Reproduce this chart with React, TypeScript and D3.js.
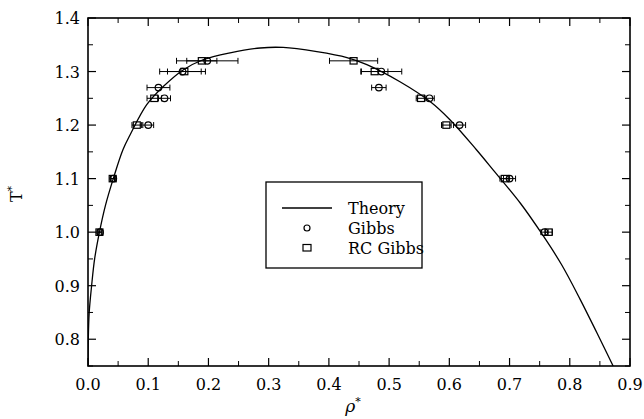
import React from "react";
import * as d3 from "d3";

// Theory coexistence curve (rho*, T*), vapour branch then liquid branch
const theoryRho = [0.0001, 0.0005, 0.002, 0.006, 0.011, 0.019, 0.029, 0.042, 0.058, 0.07, 0.0975, 0.125, 0.158, 0.191, 0.236, 0.286, 0.324, 0.38, 0.43, 0.463, 0.518, 0.568, 0.601, 0.645, 0.673, 0.718, 0.753, 0.786, 0.817, 0.845, 0.872];
const theoryT = [0.75, 0.8, 0.85, 0.9, 0.95, 1.0, 1.05, 1.1, 1.154, 1.182, 1.238, 1.272, 1.303, 1.322, 1.335, 1.344, 1.345, 1.337, 1.326, 1.313, 1.281, 1.244, 1.21, 1.154, 1.116, 1.054, 0.998, 0.94, 0.875, 0.812, 0.75];

// Gibbs ensemble (circles)
const gibbsRho = [0.198, 0.157, 0.117, 0.127, 0.1, 0.042, 0.02, 0.487, 0.483, 0.567, 0.617, 0.7, 0.758];
const gibbsT = [1.32, 1.3, 1.27, 1.25, 1.2, 1.1, 1.0, 1.3, 1.27, 1.25, 1.2, 1.1, 1.0];
const gibbsErr = [0.051, 0.038, 0.019, 0.01, 0.009, 0.004, 0.003, 0.034, 0.012, 0.008, 0.01, 0.01, 0.006];

// RC Gibbs (squares)
const rcRho = [0.189, 0.16, 0.11, 0.081, 0.041, 0.019, 0.441, 0.476, 0.553, 0.595, 0.692, 0.765];
const rcT = [1.32, 1.3, 1.25, 1.2, 1.1, 1.0, 1.32, 1.3, 1.25, 1.2, 1.1, 1.0];
const rcErr = [0.025, 0.028, 0.012, 0.008, 0.003, 0.003, 0.04, 0.022, 0.008, 0.008, 0.008, 0.006];

const xTicks = [0, 0.1, 0.2, 0.3, 0.4, 0.5, 0.6, 0.7, 0.8, 0.9];
const yTicks = [0.8, 0.9, 1.0, 1.1, 1.2, 1.3, 1.4];
const xMinor = [0.05, 0.15, 0.25, 0.35, 0.45, 0.55, 0.65, 0.75, 0.85];
const yMinor = [0.75, 0.85, 0.95, 1.05, 1.15, 1.25, 1.35];

const legendLabels = ["Theory", "Gibbs", "RC Gibbs"];

const W = 644;
const H = 419;
const L = 88, R = 630, T = 18, B = 366;
const FONT = "'DejaVu Serif', 'Liberation Serif', serif";

export default function App() {
  const x = d3.scaleLinear().domain([0, 0.9]).range([L, R]);
  const y = d3.scaleLinear().domain([0.75, 1.4]).range([B, T]);

  const pts: [number, number][] = theoryRho.map((r, i) => [r, theoryT[i]]);
  const line = d3
    .line<[number, number]>()
    .x((d) => x(d[0]))
    .y((d) => y(d[1]))
    .curve(d3.curveCatmullRom.alpha(0.5));

  const cap = 3;
  const errBar = (r: number, t: number, e: number, key: string) => {
    const x0 = x(r - e), x1 = x(r + e), yy = y(t);
    return (
      <g key={key} stroke="#000" strokeWidth={1}>
        <line x1={x0} x2={x1} y1={yy} y2={yy} />
        <line x1={x0} x2={x0} y1={yy - cap} y2={yy + cap} />
        <line x1={x1} x2={x1} y1={yy - cap} y2={yy + cap} />
      </g>
    );
  };

  return (
    <svg
      width={W}
      height={H}
      style={{ position: "absolute", left: 0, top: 0, background: "#fff" }}
      fontFamily={FONT}
    >
      <defs>
        <clipPath id="plot">
          <rect x={L} y={T} width={R - L} height={B - T} />
        </clipPath>
      </defs>
      <rect x={0} y={0} width={W} height={H} fill="#fff" />

      {/* theory curve */}
      <path d={line(pts) || ""} fill="none" stroke="#000" strokeWidth={1.3} clipPath="url(#plot)" />

      {/* error bars */}
      {gibbsRho.map((r, i) => errBar(r, gibbsT[i], gibbsErr[i], "ge" + i))}
      {rcRho.map((r, i) => errBar(r, rcT[i], rcErr[i], "re" + i))}

      {/* markers */}
      {gibbsRho.map((r, i) => (
        <circle key={"g" + i} cx={x(r)} cy={y(gibbsT[i])} r={3.3} fill="none" stroke="#000" strokeWidth={1.2} />
      ))}
      {rcRho.map((r, i) => (
        <rect key={"s" + i} x={x(r) - 3.5} y={y(rcT[i]) - 3.2} width={7} height={6.4} fill="none" stroke="#000" strokeWidth={1.2} />
      ))}

      {/* frame */}
      <rect x={L} y={T} width={R - L} height={B - T} fill="none" stroke="#000" strokeWidth={1.6} />

      {/* ticks */}
      {xTicks.map((v) => (
        <g key={"xt" + v} stroke="#000" strokeWidth={1.2}>
          <line x1={x(v)} x2={x(v)} y1={B} y2={B - 8} />
          <line x1={x(v)} x2={x(v)} y1={T} y2={T + 8} />
        </g>
      ))}
      {xMinor.map((v) => (
        <g key={"xm" + v} stroke="#000" strokeWidth={1}>
          <line x1={x(v)} x2={x(v)} y1={B} y2={B - 5} />
          <line x1={x(v)} x2={x(v)} y1={T} y2={T + 5} />
        </g>
      ))}
      {yTicks.map((v) => (
        <g key={"yt" + v} stroke="#000" strokeWidth={1.2}>
          <line x1={L} x2={L + 8} y1={y(v)} y2={y(v)} />
          <line x1={R} x2={R - 8} y1={y(v)} y2={y(v)} />
        </g>
      ))}
      {yMinor.map((v) => (
        <g key={"ym" + v} stroke="#000" strokeWidth={1}>
          <line x1={L} x2={L + 5} y1={y(v)} y2={y(v)} />
          <line x1={R} x2={R - 5} y1={y(v)} y2={y(v)} />
        </g>
      ))}

      {/* tick labels */}
      {xTicks.map((v) => (
        <text key={"xl" + v} x={x(v)} y={390} textAnchor="middle" fontSize={16} fill="#000">
          {d3.format(".1f")(v)}
        </text>
      ))}
      {yTicks.map((v) => (
        <text key={"yl" + v} x={80} y={y(v) + 6} textAnchor="end" fontSize={16} fill="#000">
          {d3.format(".1f")(v)}
        </text>
      ))}

      {/* axis titles */}
      <text x={353} y={412} textAnchor="middle" fontSize={17} fontStyle="italic" fill="#000">
        ρ<tspan dy={-7} fontSize={11} fontStyle="normal">*</tspan>
      </text>
      <text transform="translate(22,194) rotate(-90)" textAnchor="middle" fontSize={16} fill="#000">
        T<tspan dy={-7} fontSize={11}>*</tspan>
      </text>

      {/* legend */}
      <rect x={266} y={182} width={156} height={86} fill="#fff" stroke="#000" strokeWidth={1.3} />
      <line x1={282} x2={332} y1={208} y2={208} stroke="#000" strokeWidth={1.3} />
      <circle cx={307} cy={228} r={3} fill="none" stroke="#000" strokeWidth={1.2} />
      <rect x={303} y={244.5} width={8} height={6.5} fill="none" stroke="#000" strokeWidth={1.2} />
      {legendLabels.map((s, i) => (
        <text key={s} x={348} y={214 + i * 20} fontSize={16} fill="#000">
          {s}
        </text>
      ))}
    </svg>
  );
}
